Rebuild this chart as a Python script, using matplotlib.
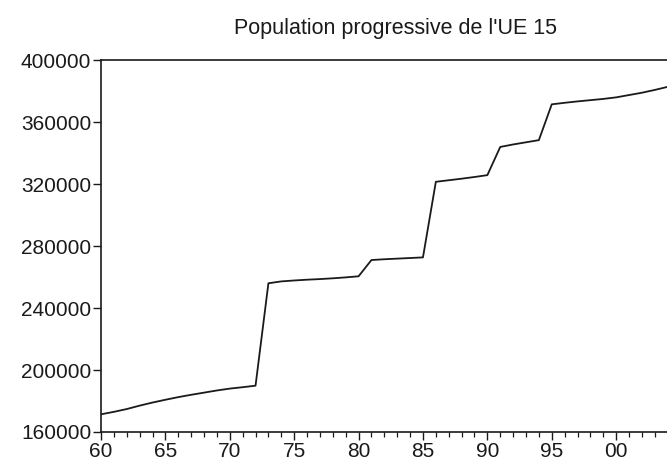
import matplotlib
matplotlib.use("Agg")
import matplotlib.pyplot as plt
from matplotlib.ticker import MultipleLocator, FixedLocator

plt.rcParams['font.family'] = ['Liberation Sans', 'DejaVu Sans']

title = "Population progressive de l'UE 15"
years = list(range(1960, 2005))
population = [
    171400, 173000, 174800, 177000, 179000, 180800, 182500, 184000, 185400, 186800,
    188000, 188900, 189900, 256000, 257200, 257800, 258300, 258700, 259200, 259800,
    260500, 271000, 271500, 271900, 272300, 272700, 321500, 322500, 323500, 324600,
    325800, 344000, 345600, 347000, 348400, 371500, 372500, 373400, 374200, 375000,
    376000, 377500, 379000, 380800, 382800,
]
y_ticks = [160000, 200000, 240000, 280000, 320000, 360000, 400000]
x_major = [1960, 1965, 1970, 1975, 1980, 1985, 1990, 1995, 2000]
x_labels = ["60", "65", "70", "75", "80", "85", "90", "95", "00"]

fig = plt.figure(figsize=(6.67, 4.63), dpi=100)
ax = fig.add_axes([0.1514, 0.067, 0.8496, 0.803])
ax.plot(years, population, color='#1a1a1a', lw=1.3)

ax.set_xlim(1960, 2004)
ax.set_ylim(160000, 400000)
ax.set_yticks(y_ticks)
ax.set_yticklabels([str(v) for v in y_ticks])
ax.xaxis.set_major_locator(FixedLocator(x_major))
ax.set_xticklabels(x_labels)
ax.xaxis.set_minor_locator(MultipleLocator(1))

for s in ax.spines.values():
    s.set_color('#1a1a1a')
    s.set_linewidth(1.2)

ax.tick_params(axis='both', which='major', direction='out', length=6, width=1.0,
               colors='#1a1a1a', labelsize=15, pad=1)
ax.tick_params(axis='x', which='minor', direction='out', length=3.5, width=0.9,
               colors='#1a1a1a')
ax.tick_params(axis='x', which='major', pad=1.5)

fig.text(0.593, 0.938, title, ha='center', va='center', fontsize=15.5, color='#1a1a1a')

fig.savefig("out.png", dpi=100)
